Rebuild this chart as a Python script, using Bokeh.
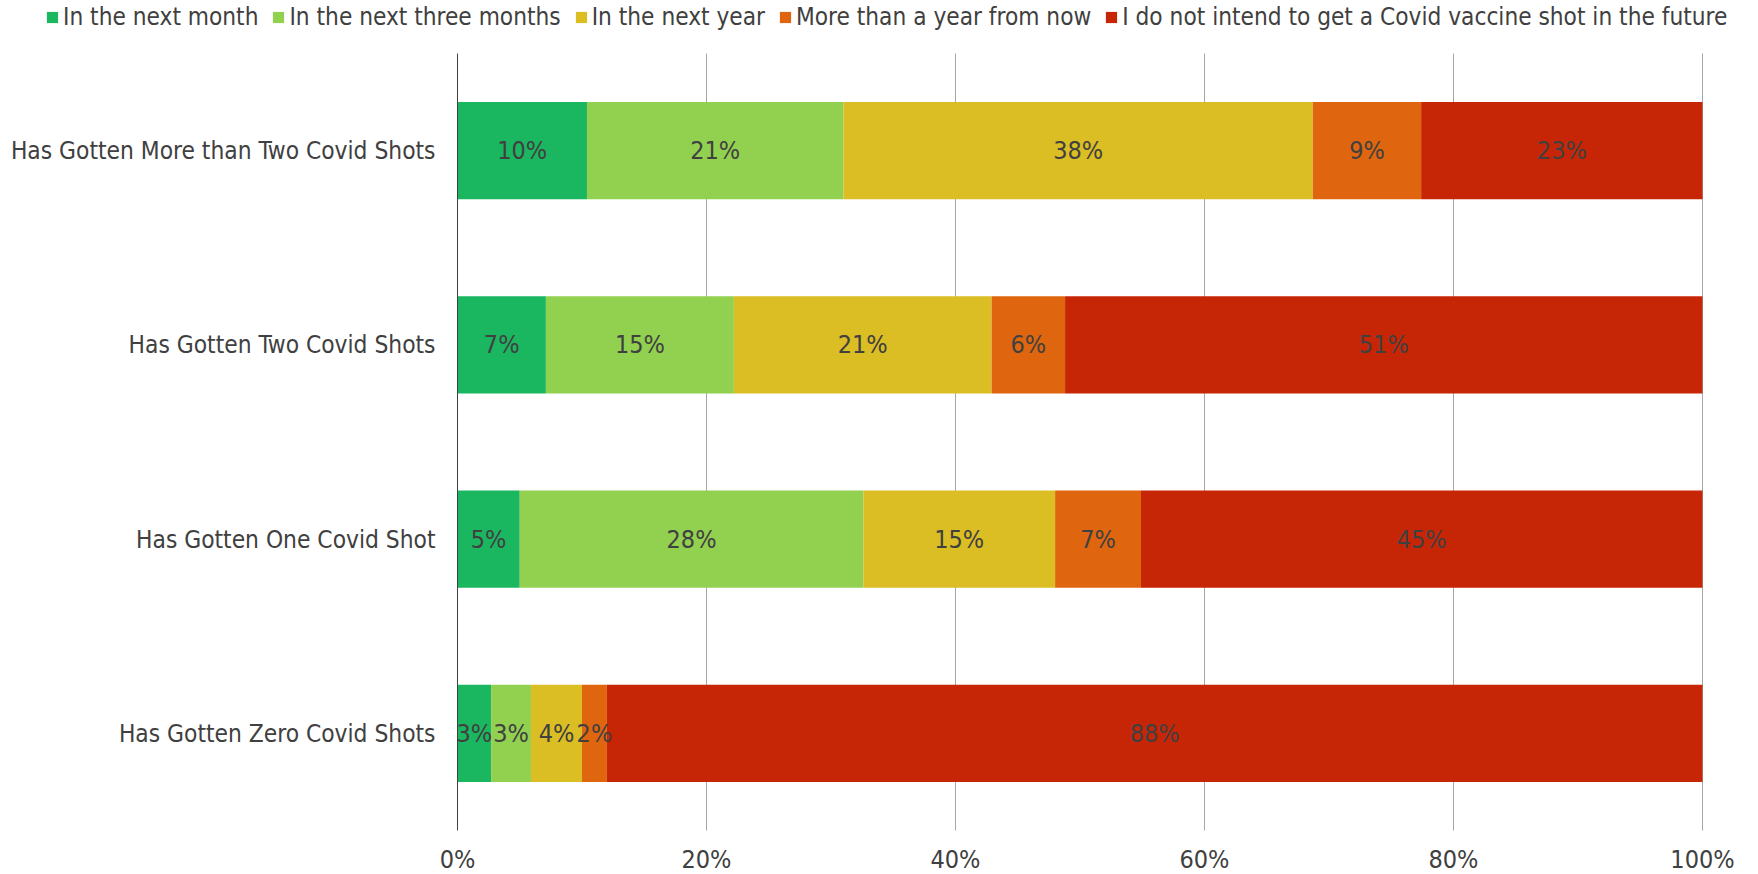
from bokeh.plotting import figure
from bokeh.models import Range1d, ColumnDataSource, Legend, LegendItem
from bokeh.core.properties import value
from bokeh.embed import file_html
from bokeh.resources import INLINE

categories = ["Has Gotten Zero Covid Shots", "Has Gotten One Covid Shot",
              "Has Gotten Two Covid Shots", "Has Gotten More than Two Covid Shots"]
series_names = ["In the next month", "In the next three months", "In the next year",
                "More than a year from now", "I do not intend to get a Covid vaccine shot in the future"]
next_month = [2.7, 5.0, 7.1, 10.4]
next_three_months = [3.2, 27.6, 15.1, 20.6]
next_year = [4.1, 15.4, 20.7, 37.7]
more_than_year = [2.0, 6.9, 5.9, 8.7]
never = [88.0, 45.1, 51.2, 22.6]
colors = ["#1bb660", "#92d050", "#dbbd24", "#df660f", "#c72606"]
x_ticks = [0, 20, 40, 60, 80, 100]
x_tick_labels = ["0%", "20%", "40%", "60%", "80%", "100%"]

FONT = "DejaVu Sans Condensed"
TXT = "#404040"

# layout geometry (pixels)
W, H = 1758, 874
PX_LEFT, PX_RIGHT = 457, 1702      # 0% and 100%
PX_TOP, PX_BOTTOM = 53, 830        # top and bottom of the category area

ncat = len(categories)
ys = [i + 0.5 for i in range(ncat)]
keys = ["s0", "s1", "s2", "s3", "s4"]
data = dict(cat=categories, y=ys)
for k, vals in zip(keys, [next_month, next_three_months, next_year, more_than_year, never]):
    data[k] = vals
source = ColumnDataSource(data)

xscale = (PX_RIGHT - PX_LEFT) / 100.0
yscale = (PX_BOTTOM - PX_TOP) / float(ncat)
x_range = Range1d(-PX_LEFT / xscale, (W - PX_LEFT) / xscale)
y_range = Range1d(-(H - PX_BOTTOM) / yscale, ncat + PX_TOP / yscale)

p = figure(width=W, height=H, x_range=x_range, y_range=y_range,
           output_backend="svg", toolbar_location=None,
           x_axis_location=None, y_axis_location=None,
           min_border_left=0, min_border_right=0, min_border_top=0, min_border_bottom=0)
p.outline_line_color = None
p.xgrid.visible = False
p.ygrid.visible = False

# vertical gridlines
grid_x = [t for t in x_ticks if t > 0]
p.segment(x0=grid_x, y0=[0] * len(grid_x), x1=grid_x, y1=[ncat] * len(grid_x),
          line_color="#a6a6a6", line_width=1)

rends = p.hbar_stack(keys, y="y", height=0.5, color=colors, source=source, line_width=0)

# category axis line
p.segment(x0=[0], y0=[0], x1=[0], y1=[ncat], line_color="#404040", line_width=1)

# category labels
p.text(x=[0] * ncat, y=ys, text=categories, text_align="right", text_baseline="middle",
       x_offset=-22, text_font=value(FONT), text_font_size="24.3px", text_color=TXT)

# x tick labels
p.text(x=x_ticks, y=[0] * len(x_ticks), text=x_tick_labels, text_align="center",
       text_baseline="middle", y_offset=29, text_font=value(FONT), text_font_size="25px",
       text_color=TXT)

# data labels
lx, ly, lt = [], [], []
for i in range(ncat):
    cum = 0.0
    for k in keys:
        v = data[k][i]
        lx.append(cum + v / 2)
        ly.append(ys[i])
        lt.append("%d%%" % int(v + 0.5))
        cum += v
p.text(x=lx, y=ly, text=lt, text_align="center", text_baseline="middle",
       text_font=value(FONT), text_font_size="25px", text_color=TXT)

legend = Legend(items=[LegendItem(label=n, renderers=[r]) for n, r in zip(series_names, rends)],
                orientation="horizontal", location=(45, 843))
legend.label_text_font = FONT
legend.label_text_font_size = "24.2px"
legend.label_text_color = TXT
legend.glyph_width = 14
legend.glyph_height = 14
legend.label_standoff = 4
legend.spacing = 13
legend.padding = 0
legend.margin = 0
legend.border_line_color = None
legend.background_fill_alpha = 0
p.add_layout(legend, "center")

open("out.html", "w").write(file_html(p, INLINE))
